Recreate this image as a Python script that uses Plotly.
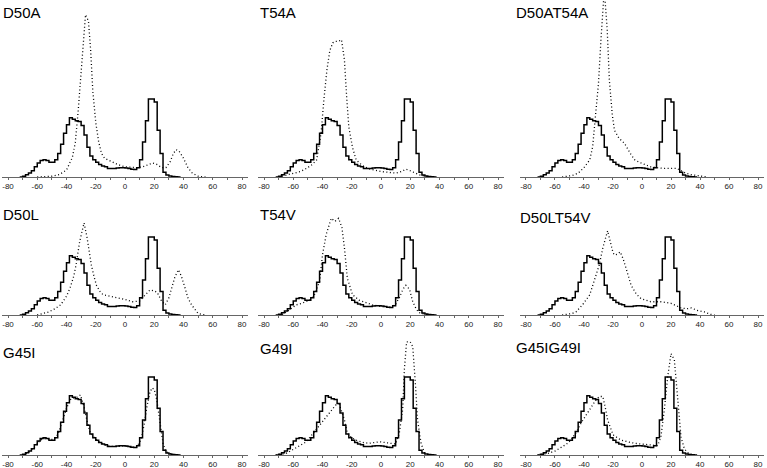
import plotly.graph_objects as go

W, H = 767, 468

# ---- data ----
panel_names = ["D50A", "T54A", "D50AT54A", "D50L", "T54V", "D50LT54V", "G45I", "G49I", "G45IG49I"]

# reference (solid) histogram, bin width 2, bin centers
wt_centers = [-71, -69, -67, -65, -63, -61, -59, -57, -55, -53, -51, -49, -47, -45, -43, -41, -39, -37,
              -35, -33, -31, -29, -27, -25, -23, -21, -19, -17, -15, -13, -11, -9, -7, -5, -3, -1,
              1, 3, 5, 7, 9, 11, 13, 15, 17, 19, 21, 23, 25, 27, 29, 31, 33, 35, 37]
wt_values = [0.0, 0.01, 0.03, 0.05, 0.08, 0.13, 0.18, 0.21, 0.22, 0.21, 0.19, 0.19, 0.22, 0.30, 0.42, 0.56, 0.67, 0.76,
             0.74, 0.72, 0.71, 0.66, 0.54, 0.38, 0.27, 0.22, 0.19, 0.16, 0.14, 0.13, 0.11, 0.11, 0.11, 0.115, 0.12, 0.12,
             0.115, 0.11, 0.10, 0.095, 0.12, 0.22, 0.45, 0.72, 1.0, 1.0, 0.96, 0.60, 0.30, 0.06, 0.025, 0.012, 0.006, 0.003, 0.0]

d50a_x = [-60, -50, -45, -40, -36, -34, -32, -30, -28, -27, -25, -23.5, -22, -20, -18, -16, -14, -10, -5, 0, 5, 8, 12, 16, 19, 22, 25, 28, 31, 33, 35, 37, 40, 43, 46, 50, 55]
d50a_y = [0.0, 0.01, 0.03, 0.09, 0.25, 0.44, 0.85, 1.3, 1.75, 2.08, 2.0, 1.63, 1.1, 0.7, 0.45, 0.3, 0.24, 0.2, 0.16, 0.13, 0.12, 0.12, 0.13, 0.16, 0.18, 0.16, 0.12, 0.12, 0.2, 0.3, 0.35, 0.33, 0.24, 0.12, 0.05, 0.01, 0.0]

t54a_x = [-70, -63, -55, -51, -47, -44, -41, -39, -37, -35, -33, -31, -29, -27, -25, -23.5, -22, -19.5, -17, -13, -9, -5, 0, 5, 10, 14, 17, 20, 23, 26, 30, 35]
t54a_y = [0.0, 0.03, 0.07, 0.11, 0.16, 0.22, 0.56, 1.0, 1.37, 1.62, 1.72, 1.74, 1.74, 1.76, 1.5, 1.03, 0.64, 0.38, 0.22, 0.15, 0.11, 0.09, 0.07, 0.06, 0.05, 0.07, 0.10, 0.08, 0.05, 0.03, 0.01, 0.0]

d50at54a_x = [-55, -48, -44, -40, -36, -34, -32, -30, -28.3, -26, -24, -22.5, -20.5, -19, -16, -12, -8, -5, -2, 2, 6, 10, 15, 20, 24, 27, 30, 34, 40, 45]
d50at54a_y = [0.0, 0.02, 0.05, 0.12, 0.22, 0.39, 0.8, 1.2, 1.76, 2.4, 1.9, 1.24, 0.8, 0.6, 0.5, 0.43, 0.3, 0.22, 0.19, 0.16, 0.13, 0.12, 0.11, 0.11, 0.11, 0.08, 0.05, 0.03, 0.01, 0.0]

d50l_x = [-60, -52, -48, -44, -40, -37.5, -35, -33.5, -31, -28, -26, -23, -21, -19.5, -17, -15, -10, -5, 0, 5, 10, 14, 17, 20, 22, 25, 27.5, 30, 32, 34, 36.5, 38.5, 41, 43, 45.5, 48, 50, 55]
d50l_y = [0.0, 0.04, 0.08, 0.13, 0.24, 0.35, 0.5, 0.64, 0.94, 1.18, 1.0, 0.64, 0.48, 0.38, 0.3, 0.26, 0.24, 0.22, 0.2, 0.17, 0.18, 0.26, 0.32, 0.31, 0.29, 0.18, 0.13, 0.22, 0.34, 0.48, 0.58, 0.5, 0.35, 0.22, 0.13, 0.06, 0.02, 0.0]

t54v_x = [-70, -67, -63, -58, -54, -51, -48, -45.5, -42, -40, -37.5, -34, -31.5, -29, -26.7, -25, -23, -19.5, -15, -12, -6, 0, 6, 10, 12.5, 15, 17, 19.5, 21.7, 24, 26, 30, 35]
t54v_y = [0.0, 0.01, 0.06, 0.13, 0.15, 0.17, 0.2, 0.26, 0.43, 0.77, 1.03, 1.24, 1.2, 1.24, 1.12, 0.86, 0.47, 0.26, 0.19, 0.17, 0.13, 0.11, 0.10, 0.14, 0.22, 0.33, 0.38, 0.33, 0.17, 0.08, 0.03, 0.01, 0.0]

d50lt54v_x = [-55, -48, -45.5, -41, -36, -33, -29.5, -27, -25, -23.7, -22, -20, -19, -17, -15, -13, -11, -7.5, -4, -0.7, 6, 13, 20, 24, 27, 31, 34, 38, 43, 47, 50]
d50lt54v_y = [0.0, 0.02, 0.04, 0.13, 0.26, 0.43, 0.64, 0.86, 1.0, 1.08, 0.95, 0.8, 0.77, 0.78, 0.81, 0.72, 0.6, 0.38, 0.27, 0.21, 0.17, 0.17, 0.15, 0.12, 0.09, 0.08, 0.09, 0.06, 0.04, 0.01, 0.0]

g45i_x = [-70, -66, -62, -58, -55, -52, -49, -46, -43, -40, -37, -35, -33, -30.5, -28, -26, -24, -21, -18, -14, -10, -5, 0, 5, 8, 11, 13, 15, 17, 18.5, 20, 21.7, 23, 24.5, 26, 28, 32, 36]
g45i_y = [0.0, 0.03, 0.10, 0.19, 0.21, 0.20, 0.20, 0.26, 0.42, 0.60, 0.72, 0.73, 0.74, 0.77, 0.62, 0.44, 0.30, 0.22, 0.17, 0.13, 0.11, 0.11, 0.115, 0.10, 0.10, 0.20, 0.38, 0.62, 0.80, 0.86, 0.84, 0.71, 0.52, 0.35, 0.15, 0.04, 0.01, 0.0]

g49i_x = [-72, -65, -61, -58, -54, -51, -48, -44.5, -41, -37.5, -34, -31, -28.5, -26.5, -25, -23, -20, -17, -12, -8, -4, -1, 3, 6, 10, 12.5, 14.8, 16, 17.5, 20, 21.7, 23.5, 25, 27.4, 29.7, 33]
g49i_y = [0.0, 0.02, 0.06, 0.09, 0.13, 0.17, 0.24, 0.32, 0.41, 0.49, 0.57, 0.64, 0.65, 0.55, 0.45, 0.28, 0.22, 0.19, 0.16, 0.15, 0.16, 0.17, 0.16, 0.15, 0.14, 0.28, 0.58, 1.1, 1.45, 1.45, 1.39, 0.92, 0.45, 0.15, 0.03, 0.0]

g45ig49i_x = [-72, -65, -60, -56, -52, -49, -45, -42, -38, -35, -32, -29.4, -27, -25, -23.7, -20, -14.5, -10, -5, 0, 6, 10.8, 13, 15.4, 17.7, 20, 22.3, 24.6, 26.9, 29.2, 32, 35]
g45ig49i_y = [0.0, 0.02, 0.05, 0.10, 0.14, 0.19, 0.30, 0.41, 0.53, 0.62, 0.70, 0.75, 0.75, 0.58, 0.45, 0.26, 0.19, 0.17, 0.15, 0.14, 0.13, 0.12, 0.23, 0.58, 1.0, 1.3, 1.22, 0.71, 0.23, 0.08, 0.02, 0.0]

mut_x = [d50a_x, t54a_x, d50at54a_x, d50l_x, t54v_x, d50lt54v_x, g45i_x, g49i_x, g45ig49i_x]
mut_y = [d50a_y, t54a_y, d50at54a_y, d50l_y, t54v_y, d50lt54v_y, g45i_y, g49i_y, g45ig49i_y]

tick_vals = [-80, -60, -40, -20, 0, 20, 40, 60, 80]
tick_text = ["-80", "-60", "-40", "-20", "0", "20", "40", "60", "80"]

# ---- layout geometry (pixels) ----
col_px = [(2, 248), (258, 504), (520, 764)]
row_px = [(0, 177), (200, 315), (335, 455)]   # (top, axis)
unit_px = 78.0
title_pos = [(1, 12), (258, 12), (514, 12),
             (1, 215), (258, 215), (518, 217),
             (1, 352), (258, 348), (514, 347)]

BIN = 2.0
edges = [c - BIN / 2 for c in wt_centers] + [wt_centers[-1] + BIN / 2]
steps = wt_values + [wt_values[-1]]

fig = go.Figure()
layout = dict(width=W, height=H, margin=dict(l=0, r=0, t=0, b=0),
              paper_bgcolor="white", plot_bgcolor="white", showlegend=False,
              font=dict(family="Liberation Sans, Arial, sans-serif", color="black"))
annotations = []
for i, name in enumerate(panel_names):
    r, c = divmod(i, 3)
    k = "" if i == 0 else str(i + 1)
    xa, ya = "x" + k, "y" + k
    fig.add_trace(go.Scatter(x=edges, y=steps, mode="lines", line_shape="hv",
                             line=dict(color="black", width=1.5), xaxis=xa, yaxis=ya, hoverinfo="skip"))
    fig.add_trace(go.Scatter(x=mut_x[i], y=mut_y[i], mode="lines",
                             line=dict(color="black", width=1.3, dash="1px,2.5px"), xaxis=xa, yaxis=ya, hoverinfo="skip"))
    x0, x1 = col_px[c]
    top, ax = row_px[r]
    layout["xaxis" + k] = dict(domain=[x0 / W, x1 / W], range=[-84.1, 84.1], anchor=ya,
                               showline=True, linecolor="#666", linewidth=1, showgrid=False, zeroline=False,
                               tickvals=tick_vals, ticktext=tick_text, ticks="outside", ticklen=2,
                               tickcolor="#666", tickfont=dict(size=8, color="#222"),
                               ticklabeloverflow="allow", ticklabelstandoff=-1,
                               minor=dict(dtick=10, tick0=0, ticks="outside", ticklen=2, tickcolor="#666"),
                               fixedrange=True)
    layout["yaxis" + k] = dict(domain=[1 - ax / H, 1 - top / H], range=[0, (ax - top) / unit_px],
                               visible=False, anchor=xa, fixedrange=True)
    tx, ty = title_pos[i]
    annotations.append(dict(text=name, xref="paper", yref="paper", x=tx / W, y=1 - ty / H,
                            xanchor="left", yanchor="middle", showarrow=False,
                            font=dict(size=15, color="black", family="Liberation Sans, Arial, sans-serif")))
layout["annotations"] = annotations
fig.update_layout(**layout)
fig.write_html("out.html", config={"displayModeBar": False, "staticPlot": True},
               post_script="document.body.style.margin='0';document.body.style.overflow='hidden';")
